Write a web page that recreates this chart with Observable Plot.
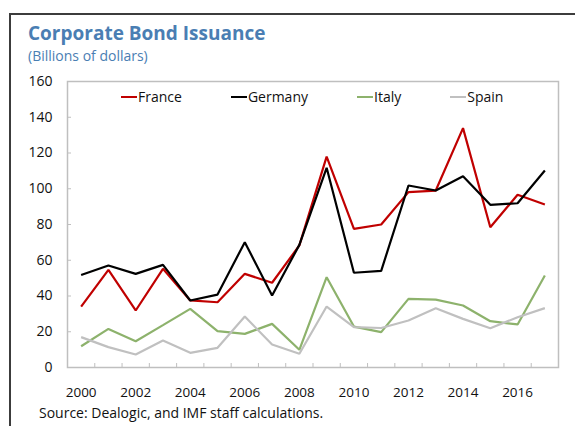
<!DOCTYPE html>
<html>
<head>
<meta charset="utf-8">
<script src="https://cdn.jsdelivr.net/npm/d3@7"></script>
<script src="https://cdn.jsdelivr.net/npm/@observablehq/plot@0.6"></script>
<style>
  html, body { margin: 0; padding: 0; background: #fff; }
  #wrap { position: relative; width: 575px; height: 426px; overflow: hidden; font-family: "Open Sans", "Noto Sans", sans-serif; }
  #border { position: absolute; left: 9px; top: 13px; width: 600px; height: 500px; border-top: 2px solid #3c3c3c; border-left: 2px solid #3c3c3c; }
  #title { position: absolute; left: 28px; top: 21px; font-size: 19px; line-height: 24px; font-weight: 700; color: #4a7eb3; white-space: nowrap; }
  #subtitle { position: absolute; left: 28px; top: 47px; font-size: 14px; line-height: 18px; color: #4a7eb3; white-space: nowrap; }
  #chart { position: absolute; left: 0; top: 66px; }
  #legend { position: absolute; left: 121px; top: 87px; display: flex; gap: 49px; font-size: 14px; line-height: 20px; color: #111; white-space: nowrap; }
  .item { display: flex; align-items: center; }
  .swatch { display: inline-block; width: 16px; height: 2px; margin-right: 1px; }
  #source { position: absolute; left: 39px; top: 404px; font-size: 14px; line-height: 18px; color: #111; white-space: nowrap; }
</style>
</head>
<body>
<div id="wrap">
  <div id="border"></div>
  <div id="title">Corporate Bond Issuance</div>
  <div id="subtitle">(Billions of dollars)</div>
  <div id="chart"></div>
  <div id="legend"></div>
  <div id="source">Source: Dealogic, and IMF staff calculations.</div>
</div>
<script>
const years = [2000, 2001, 2002, 2003, 2004, 2005, 2006, 2007, 2008, 2009, 2010, 2011, 2012, 2013, 2014, 2015, 2016, 2017];
const countries = ["France", "Germany", "Italy", "Spain"];
const colors = ["#c00000", "#000000", "#8db26c", "#c0c0c0"];
const france  = [34.1, 54.6, 31.9, 55.2, 37.5, 36.5, 52.4, 47.4, 68.3, 118.0, 77.6, 80.0, 98.1, 99.0, 133.9, 78.5, 96.6, 91.2];
const germany = [51.7, 57.1, 52.4, 57.4, 37.5, 40.8, 70.1, 40.3, 68.6, 111.7, 53.0, 54.1, 101.8, 99.0, 107.0, 91.0, 91.9, 110.2];
const italy   = [11.9, 21.6, 14.7, 23.7, 32.8, 20.3, 18.8, 24.4, 9.9, 50.5, 22.9, 19.8, 38.4, 38.0, 34.7, 25.9, 24.1, 51.5];
const spain   = [17.0, 11.4, 7.3, 15.1, 8.2, 11.0, 28.5, 12.9, 7.7, 34.1, 22.6, 22.1, 26.3, 33.2, 27.2, 22.0, 28.1, 33.2];
const yTicks = [0, 20, 40, 60, 80, 100, 120, 140, 160];
const xLabels = [2000, 2002, 2004, 2006, 2008, 2010, 2012, 2014, 2016];

const seriesValues = [france, germany, italy, spain];
const data = [];
countries.forEach((c, i) => years.forEach((yr, j) => data.push({country: c, year: yr, value: seriesValues[i][j]})));
const bounds = years.slice(1).map(y => y - 0.5);

const gridColor = "#bfbfbf";
const chart = Plot.plot({
  width: 575,
  height: 334,
  marginLeft: 67,
  marginRight: 17,
  marginTop: 15,
  marginBottom: 33,
  style: {fontFamily: "'Open Sans', 'Noto Sans', sans-serif", fontSize: "13.5px", color: "#111", background: "transparent"},
  x: {type: "linear", domain: [years[0] - 0.5, years[years.length - 1] + 0.5]},
  y: {domain: [0, 160]},
  color: {domain: countries, range: colors},
  marks: [
    Plot.frame({stroke: gridColor, strokeWidth: 1.5}),
    Plot.axisY(yTicks, {anchor: "left", tickSize: 4, dx: 4, stroke: gridColor, tickFormat: () => "", label: null}),
    Plot.axisY(yTicks, {anchor: "left", tickSize: 0, tickPadding: 15, tickFormat: d => String(d), label: null, fill: "#111", fontSize: 14}),
    Plot.axisX(bounds, {anchor: "bottom", tickSize: 4, dy: -4, stroke: gridColor, tickFormat: () => "", label: null}),
    Plot.axisX(xLabels, {anchor: "bottom", tickSize: 0, tickPadding: 20, tickFormat: d => String(d), label: null, fill: "#111"}),
    Plot.line(data, {x: "year", y: "value", z: "country", stroke: "country", strokeWidth: 2.2, strokeLinejoin: "miter", strokeLinecap: "butt"})
  ]
});
document.getElementById("chart").appendChild(chart);

const legend = document.getElementById("legend");
countries.forEach((c, i) => {
  const item = document.createElement("div");
  item.className = "item";
  const sw = document.createElement("span");
  sw.className = "swatch";
  sw.style.background = colors[i];
  const t = document.createElement("span");
  t.textContent = c;
  item.appendChild(sw);
  item.appendChild(t);
  legend.appendChild(item);
});
</script>
</body>
</html>
